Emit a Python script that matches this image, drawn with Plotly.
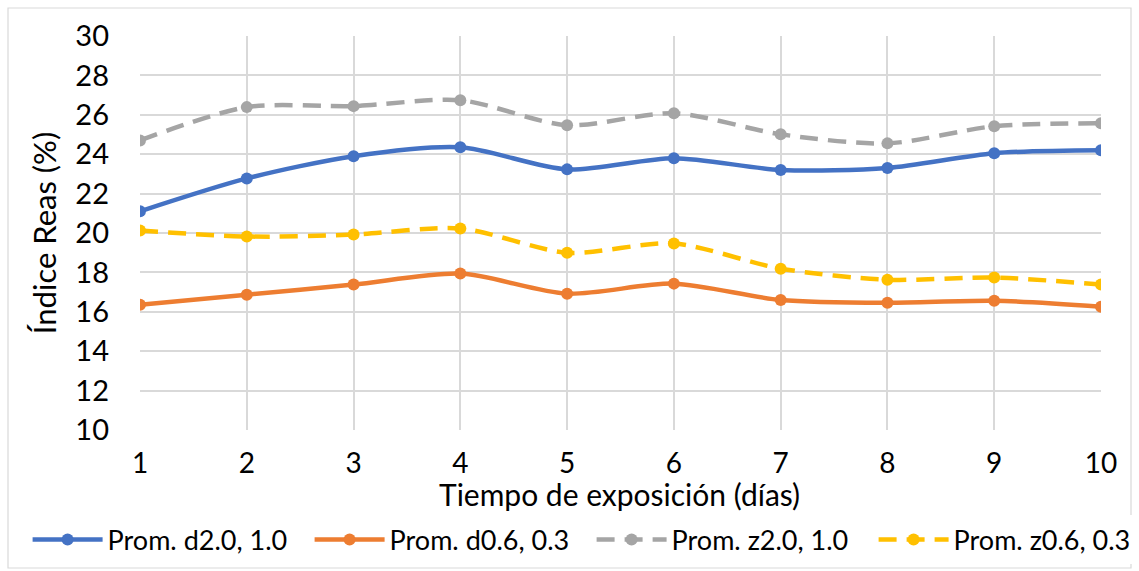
import plotly.graph_objects as go

dias = [1, 2, 3, 4, 5, 6, 7, 8, 9, 10]
prom_d20 = [21.1, 22.77, 23.9, 24.35, 23.23, 23.8, 23.2, 23.3, 24.05, 24.2]
prom_d06 = [16.36, 16.87, 17.38, 17.94, 16.92, 17.43, 16.6, 16.46, 16.56, 16.26]
prom_z20 = [24.7, 26.39, 26.44, 26.74, 25.47, 26.08, 25.01, 24.55, 25.42, 25.57]
prom_z06 = [20.13, 19.82, 19.92, 20.23, 19.0, 19.47, 18.19, 17.63, 17.74, 17.38]
y_ticks = [10, 12, 14, 16, 18, 20, 22, 24, 26, 28, 30]

series = [
    ("Prom. d2.0, 1.0", prom_d20, "#4472C4", "solid"),
    ("Prom. d0.6, 0.3", prom_d06, "#ED7D31", "solid"),
    ("Prom. z2.0, 1.0", prom_z20, "#A5A5A5", "18px,10px"),
    ("Prom. z0.6, 0.3", prom_z06, "#FFC000", "18px,10px"),
]

FONT = "Lato, Open Sans, sans-serif"

# plot region: margins l=140, r=0 -> gs.w = 999; axis occupies 961 px of it
GSW = 999.0
GSH = 394.0

fig = go.Figure()
for name, vals, color, dash in series:
    fig.add_trace(go.Scatter(
        x=dias, y=vals, name=name, mode="lines+markers",
        line=dict(color=color, width=4.5, dash=dash, shape="spline", smoothing=0.8),
        marker=dict(color=color, size=12),
    ))

fig.update_layout(
    width=1139, height=571,
    margin=dict(l=140, r=0, t=36, b=141, autoexpand=False),
    paper_bgcolor="white", plot_bgcolor="white",
    font=dict(family=FONT, color="#000000", size=28),
    showlegend=True,
    legend=dict(
        orientation="h", x=-112.4 / GSW, xanchor="left", y=-0.217, yanchor="top",
        font=dict(size=27, family=FONT, color="#000000"),
        itemwidth=70, entrywidth=197, entrywidthmode="pixels",
        traceorder="normal",
    ),
    xaxis=dict(
        domain=[0, 961 / GSW],
        range=[1, 10], tickvals=dias, ticktext=[str(d) for d in dias],
        showgrid=True, gridcolor="#D9D9D9", gridwidth=1.5,
        zeroline=False, showline=False, ticks="", ticklabelstandoff=14,
        tickfont=dict(size=28),
    ),
    yaxis=dict(
        range=[10, 30], tickvals=y_ticks,
        showgrid=True, gridcolor="#D9D9D9", gridwidth=1.5,
        zeroline=False, showline=False, ticks="", ticklabelstandoff=30,
        tickfont=dict(size=29),
        title=dict(text="Índice Reas (%)", font=dict(size=31), standoff=9),
    ),
)

fig.add_annotation(
    text="Tiempo de exposición (días)", xref="paper", yref="paper",
    x=(619 - 140) / GSW, y=(430 - 494) / GSH, xanchor="center", yanchor="middle",
    showarrow=False, font=dict(size=30, family=FONT, color="#000000"),
)

# outer chart-area border
fig.add_shape(type="rect", xref="paper", yref="paper",
              x0=(8 - 140) / GSW, x1=(1131 - 140) / GSW,
              y0=(430 - 568) / GSH, y1=(430 - 8) / GSH,
              line=dict(color="#D9D9D9", width=1.2), layer="below")

fig.write_html("out.html")
